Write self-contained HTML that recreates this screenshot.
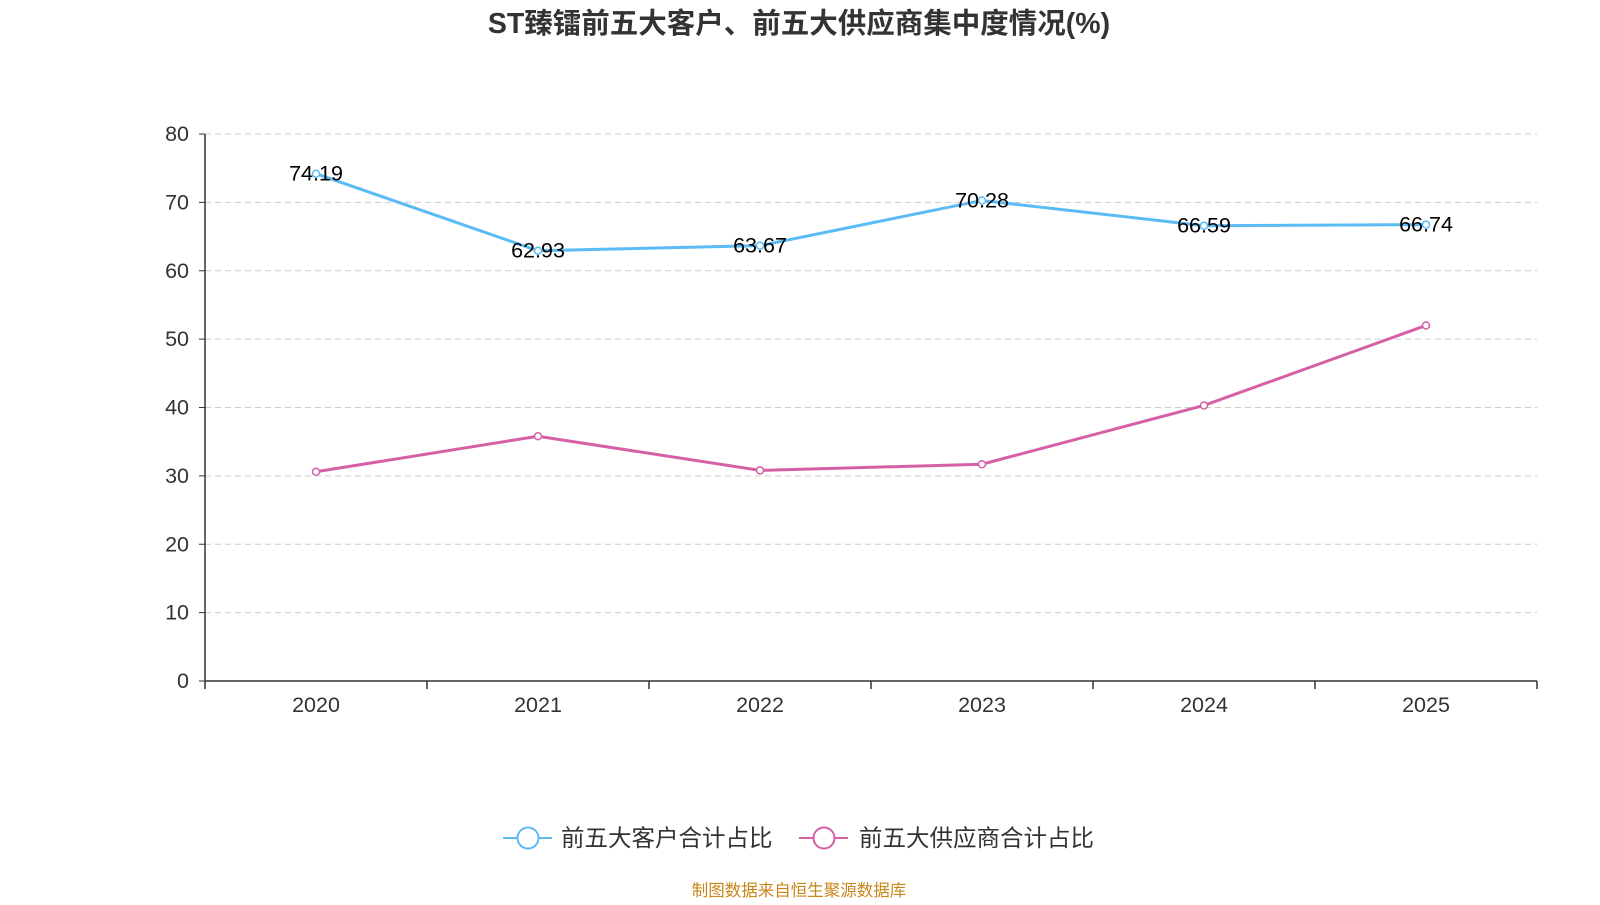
<!DOCTYPE html>
<html><head><meta charset="utf-8">
<style>
body{margin:0;background:#fff;width:1600px;height:900px;overflow:hidden;font-family:"Liberation Sans","Noto Sans CJK SC",sans-serif;}
</style></head>
<body>
<svg id="chart" width="1600" height="900" xmlns="http://www.w3.org/2000/svg" font-family="Liberation Sans, Noto Sans CJK SC, sans-serif">
<text x="799" y="33" text-anchor="middle" font-size="28.5" font-weight="bold" fill="#333">ST臻镭前五大客户、前五大供应商集中度情况(%)</text>
<g id="grid"></g><g id="axes"></g><g id="series"></g>
<g>
<line x1="503" y1="838" x2="552" y2="838" stroke="#5bbcf5" stroke-width="2"/>
<circle cx="528" cy="838" r="10.5" fill="#fff" stroke="#5bbcf5" stroke-width="2"/>
<text x="561" y="846" font-size="23.5" fill="#333">前五大客户合计占比</text>
<line x1="799" y1="838" x2="848" y2="838" stroke="#d660a5" stroke-width="2"/>
<circle cx="824" cy="838" r="10.5" fill="#fff" stroke="#d660a5" stroke-width="2"/>
<text x="859" y="846" font-size="23.5" fill="#333">前五大供应商合计占比</text>
</g>
<text x="799" y="896" text-anchor="middle" font-size="16.5" fill="#c8861a">制图数据来自恒生聚源数据库</text>
</svg>
<script>
const categories=["2020","2021","2022","2023","2024","2025"];
const customers=[74.19,62.93,63.67,70.28,66.59,66.74];
const suppliers=[30.6,35.8,30.8,31.7,40.3,52.0];
const yTicks=[0,10,20,30,40,50,60,70,80];
const NS="http://www.w3.org/2000/svg";
const x0=205,x1=1537,y0=681,yTop=134,yMax=80;
const band=(x1-x0)/categories.length;
const xs=i=>x0+band*(i+0.5);
const ys=v=>y0-(v/yMax)*(y0-yTop);
function mk(tag,attrs,parent){const e=document.createElementNS(NS,tag);for(const k in attrs)e.setAttribute(k,attrs[k]);document.getElementById(parent).appendChild(e);return e;}
yTicks.forEach(t=>{
 if(t>0){const g=mk('line',{x1:x0,x2:x1,y1:ys(t),y2:ys(t),stroke:'#ccc','stroke-dasharray':'6,4'},'grid');
 
 }
 const l=mk('text',{x:189,y:ys(t)+7,'text-anchor':'end','font-size':'21.5',fill:'#333'},'axes');l.textContent=t;
 
 
 mk('line',{x1:x0-6,x2:x0,y1:ys(t),y2:ys(t),stroke:'#333'},'axes');
});
mk('line',{x1:x0,x2:x0,y1:yTop,y2:y0,stroke:'#333','stroke-width':1.5},'axes');
mk('line',{x1:x0,x2:x1,y1:y0,y2:y0,stroke:'#333','stroke-width':1.5},'axes');
for(let i=0;i<=categories.length;i++)mk('line',{x1:x0+band*i,x2:x0+band*i,y1:y0,y2:y0+8,stroke:'#333','stroke-width':1.5},'axes');
categories.forEach((c,i)=>{const t=mk('text',{x:xs(i),y:712,'text-anchor':'middle','font-size':'21.5',fill:'#333'},'axes');t.textContent=c;
 
 });
function series(vals,color,name,labels){
 const p=mk('polyline',{points:vals.map((v,i)=>xs(i)+','+ys(v)).join(' '),fill:'none',stroke:color,'stroke-width':3},'series');
 
 
 vals.forEach((v,i)=>{const c=mk('circle',{cx:xs(i),cy:ys(v),r:3.5,fill:'#fff',stroke:color,'stroke-width':1.5},'series');
  
  
  if(labels){const t=mk('text',{x:xs(i),y:ys(v)+7,'text-anchor':'middle','font-size':'21.5',fill:'#000'},'series');t.textContent=v.toFixed(2);
  
  }
 });
}
series(customers,'#5bbcf5','customers',true);
series(suppliers,'#d660a5','suppliers',false);
</script>
</body></html>
